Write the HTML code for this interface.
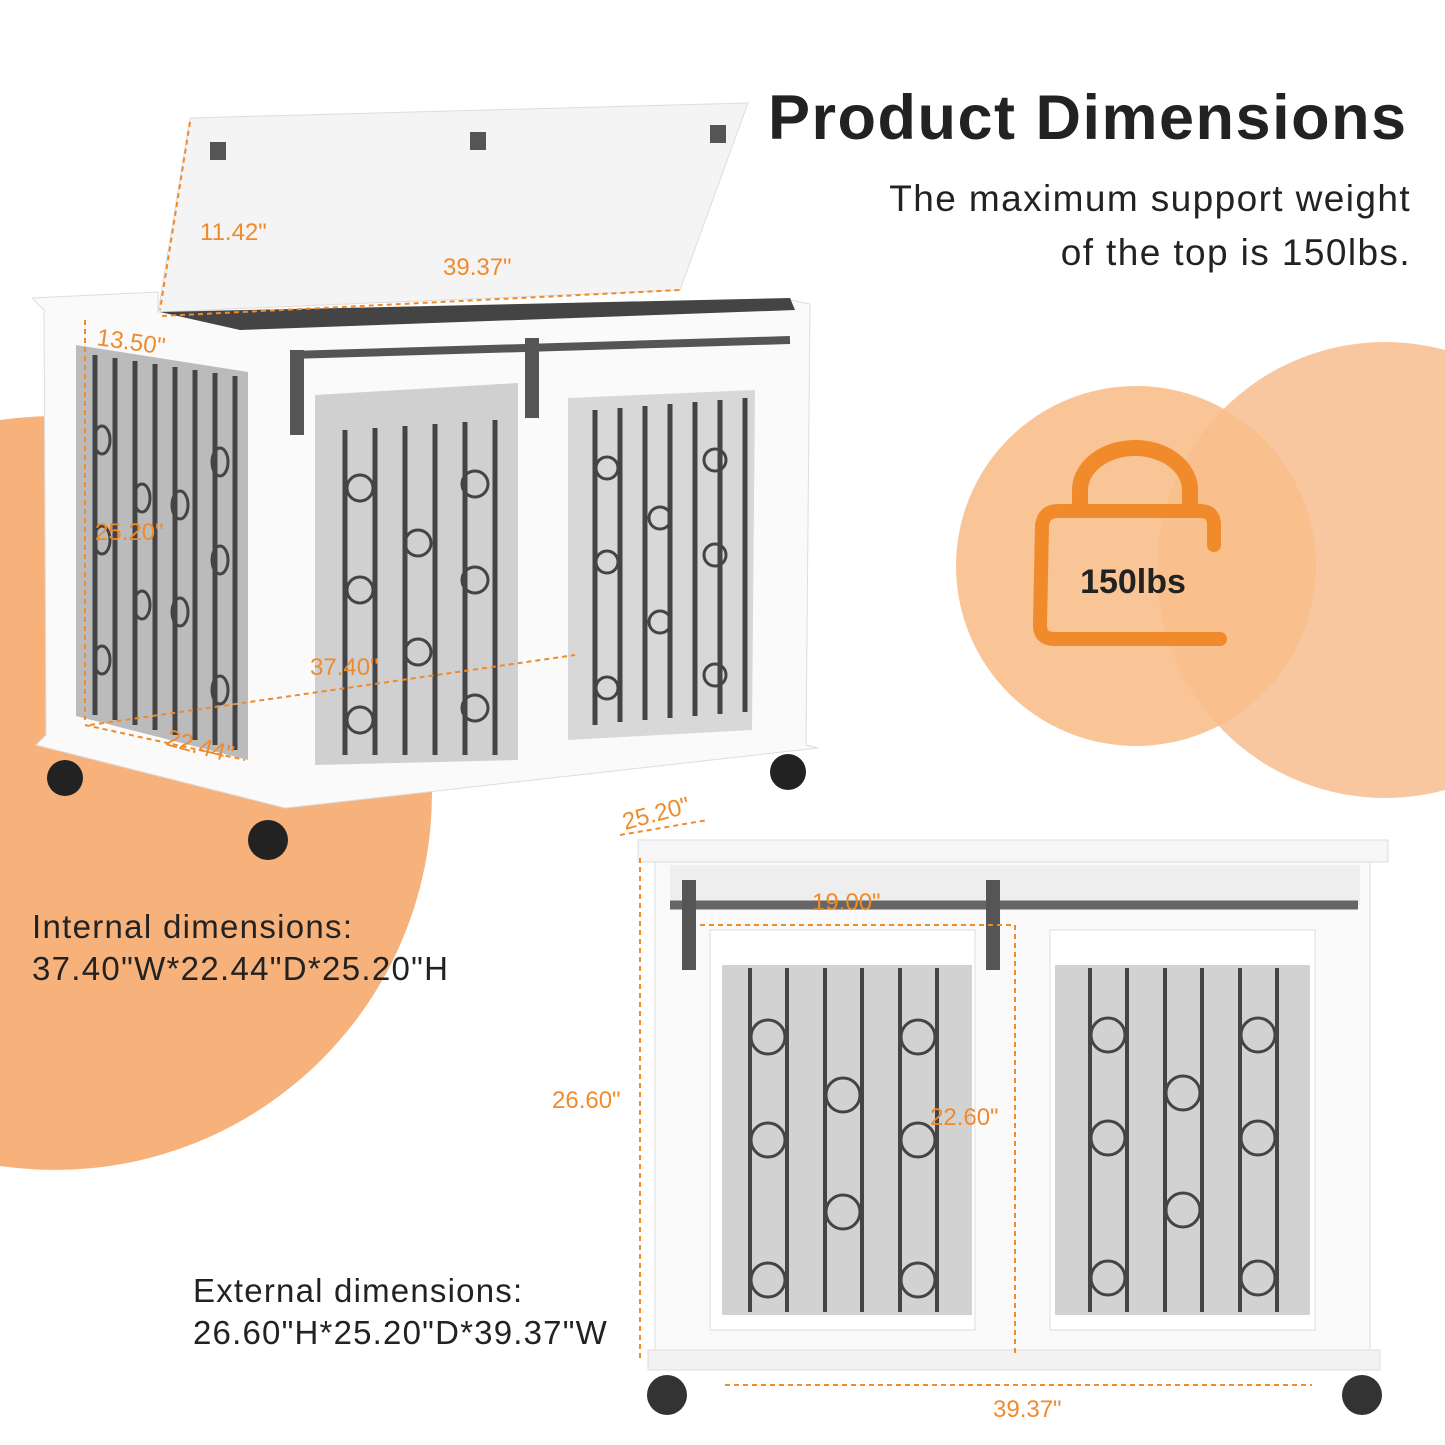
<!DOCTYPE html>
<html><head><meta charset="utf-8"><style>
body{margin:0;width:1445px;height:1445px;overflow:hidden;background:#fff;font-family:"Liberation Sans",sans-serif;position:relative}
.t{position:absolute;color:#222}
</style></head><body>
<svg width="1445" height="1445" style="position:absolute;left:0;top:0">
<circle cx="55" cy="793" r="377" fill="#f7b27c"/>
<circle cx="1385" cy="570" r="228" fill="#f8c7a0"/>
<circle cx="1136" cy="566" r="180" fill="#f8bf8c" opacity="0.9"/>
<path d="M1080 512 V490 a55 42 0 0 1 110 0 V512" fill="none" stroke="#f08a2a" stroke-width="16"/>
<path d="M1214 545 V525 q0 -14 -14 -14 H1058 q-14 0 -16 14 L1040 625 q0 14 14 14 H1220" fill="none" stroke="#f08a2a" stroke-width="14" stroke-linecap="round"/>
<text x="1133" y="593" font-family="Liberation Sans" font-weight="bold" font-size="34" text-anchor="middle" fill="#222">150lbs</text>

<polygon points="190,118 748,103 680,290 158,312" fill="#f4f4f4" stroke="#ddd"/>
<rect x="210" y="142" width="16" height="18" fill="#555"/><rect x="470" y="132" width="16" height="18" fill="#555"/><rect x="710" y="125" width="16" height="18" fill="#555"/>
<polygon points="32,298 158,292 158,312 790,300 810,304 806,745 818,748 285,808 36,745 46,735 44,310" fill="#fafafa" stroke="#ddd"/>
<polygon points="160,312 790,298 795,310 240,330" fill="#444"/>
<polygon points="76,345 248,372 248,760 76,716" fill="#bbb"/>
<polygon points="315,395 518,383 518,760 315,765" fill="#d0d0d0"/>
<polygon points="568,398 755,390 752,730 568,740" fill="#d8d8d8"/>
<g stroke="#444" stroke-width="5">
<line x1="95" y1="355" x2="95" y2="715"/><line x1="115" y1="358" x2="115" y2="720"/><line x1="135" y1="361" x2="135" y2="725"/><line x1="155" y1="364" x2="155" y2="730"/><line x1="175" y1="367" x2="175" y2="735"/><line x1="195" y1="370" x2="195" y2="740"/><line x1="215" y1="373" x2="215" y2="745"/><line x1="235" y1="376" x2="235" y2="750"/>
<line x1="345" y1="430" x2="345" y2="755"/><line x1="375" y1="428" x2="375" y2="755"/><line x1="405" y1="426" x2="405" y2="755"/><line x1="435" y1="424" x2="435" y2="755"/><line x1="465" y1="422" x2="465" y2="755"/><line x1="495" y1="420" x2="495" y2="755"/>
<line x1="595" y1="410" x2="595" y2="725"/><line x1="620" y1="408" x2="620" y2="722"/><line x1="645" y1="406" x2="645" y2="720"/><line x1="670" y1="404" x2="670" y2="718"/><line x1="695" y1="402" x2="695" y2="716"/><line x1="720" y1="400" x2="720" y2="714"/><line x1="745" y1="398" x2="745" y2="712"/>
</g>
<g fill="none" stroke="#444" stroke-width="3">
<circle cx="360" cy="488" r="13"/><circle cx="475" cy="484" r="13"/><circle cx="418" cy="543" r="13"/><circle cx="360" cy="590" r="13"/><circle cx="475" cy="580" r="13"/><circle cx="418" cy="652" r="13"/><circle cx="360" cy="720" r="13"/><circle cx="475" cy="708" r="13"/>
<circle cx="607" cy="468" r="11"/><circle cx="715" cy="460" r="11"/><circle cx="660" cy="518" r="11"/><circle cx="607" cy="562" r="11"/><circle cx="715" cy="555" r="11"/><circle cx="660" cy="622" r="11"/><circle cx="607" cy="688" r="11"/><circle cx="715" cy="675" r="11"/>
<ellipse cx="102" cy="440" rx="8" ry="14"/><ellipse cx="142" cy="498" rx="8" ry="14"/><ellipse cx="180" cy="505" rx="8" ry="14"/><ellipse cx="220" cy="462" rx="8" ry="14"/><ellipse cx="102" cy="540" rx="8" ry="14"/><ellipse cx="220" cy="560" rx="8" ry="14"/><ellipse cx="142" cy="605" rx="8" ry="14"/><ellipse cx="180" cy="612" rx="8" ry="14"/><ellipse cx="102" cy="660" rx="8" ry="14"/><ellipse cx="220" cy="690" rx="8" ry="14"/>
</g>
<line x1="290" y1="355" x2="790" y2="340" stroke="#555" stroke-width="8"/>
<rect x="290" y="350" width="14" height="85" fill="#555"/><rect x="525" y="338" width="14" height="80" fill="#555"/>
<circle cx="65" cy="778" r="18" fill="#222"/><circle cx="268" cy="840" r="20" fill="#222"/><circle cx="788" cy="772" r="18" fill="#222"/>

<rect x="638" y="840" width="750" height="22" fill="#f6f6f6" stroke="#ddd"/>
<rect x="655" y="862" width="715" height="490" fill="#fafafa" stroke="#ddd"/>
<rect x="648" y="1350" width="732" height="20" fill="#f2f2f2" stroke="#ddd"/>
<rect x="670" y="865" width="690" height="40" fill="#eee"/>
<line x1="670" y1="905" x2="1358" y2="905" stroke="#666" stroke-width="9"/>
<rect x="682" y="880" width="14" height="90" fill="#555"/><rect x="986" y="880" width="14" height="90" fill="#555"/>
<rect x="710" y="930" width="265" height="400" fill="#fff" stroke="#ddd"/>
<rect x="722" y="965" width="250" height="350" fill="#d2d2d2"/>
<rect x="1050" y="930" width="265" height="400" fill="#fff" stroke="#ddd"/>
<rect x="1055" y="965" width="255" height="350" fill="#d2d2d2"/>
<g stroke="#444" stroke-width="4">
<line x1="750" y1="968" x2="750" y2="1312"/><line x1="787" y1="968" x2="787" y2="1312"/><line x1="825" y1="968" x2="825" y2="1312"/><line x1="862" y1="968" x2="862" y2="1312"/><line x1="900" y1="968" x2="900" y2="1312"/><line x1="937" y1="968" x2="937" y2="1312"/>
<line x1="1090" y1="968" x2="1090" y2="1312"/><line x1="1127" y1="968" x2="1127" y2="1312"/><line x1="1165" y1="968" x2="1165" y2="1312"/><line x1="1202" y1="968" x2="1202" y2="1312"/><line x1="1240" y1="968" x2="1240" y2="1312"/><line x1="1277" y1="968" x2="1277" y2="1312"/>
</g>
<g fill="none" stroke="#444" stroke-width="3">
<circle cx="768" cy="1037" r="17"/><circle cx="918" cy="1037" r="17"/><circle cx="843" cy="1095" r="17"/><circle cx="768" cy="1140" r="17"/><circle cx="918" cy="1140" r="17"/><circle cx="843" cy="1212" r="17"/><circle cx="768" cy="1280" r="17"/><circle cx="918" cy="1280" r="17"/>
<circle cx="1108" cy="1035" r="17"/><circle cx="1258" cy="1035" r="17"/><circle cx="1183" cy="1093" r="17"/><circle cx="1108" cy="1138" r="17"/><circle cx="1258" cy="1138" r="17"/><circle cx="1183" cy="1210" r="17"/><circle cx="1108" cy="1278" r="17"/><circle cx="1258" cy="1278" r="17"/>
</g>
<circle cx="667" cy="1395" r="20" fill="#333"/><circle cx="1362" cy="1395" r="20" fill="#333"/>

<g fill="none" stroke="#f08a2a" stroke-width="2" stroke-dasharray="5,4">
<line x1="190" y1="122" x2="160" y2="310"/><line x1="162" y1="316" x2="680" y2="290"/><line x1="85" y1="320" x2="85" y2="720"/><line x1="85" y1="725" x2="245" y2="760"/><line x1="90" y1="725" x2="575" y2="655"/>
<line x1="640" y1="858" x2="640" y2="1362"/><line x1="725" y1="1385" x2="1312" y2="1385"/><line x1="700" y1="925" x2="1015" y2="925"/><line x1="1015" y1="925" x2="1015" y2="1355"/><line x1="620" y1="835" x2="708" y2="820"/>
</g>
<g font-family="Liberation Sans" font-size="24" fill="#f08a2a">
<text x="200" y="240">11.42"</text><text x="443" y="275">39.37"</text><text x="96" y="345" transform="rotate(8 96 345)">13.50"</text><text x="95" y="540">25.20"</text><text x="310" y="675">37.40"</text><text x="165" y="745" transform="rotate(15 165 745)">22.44"</text>
<text x="625" y="830" transform="rotate(-15 625 830)">25.20"</text><text x="812" y="910">19.00"</text><text x="552" y="1108">26.60"</text><text x="930" y="1125">22.60"</text><text x="993" y="1417">39.37"</text>
</g>
</svg>
<div class="t" style="left:768px;top:82px;font-size:63px;font-weight:bold;letter-spacing:1.5px">Product Dimensions</div>
<div class="t" style="right:34px;top:172px;font-size:37px;text-align:right;line-height:54px;letter-spacing:1.4px">The maximum support weight<br>of the top is 150lbs.</div>
<div class="t" style="left:32px;top:906px;font-size:33px;line-height:42px;letter-spacing:1.3px">Internal dimensions:<br>37.40"W*22.44"D*25.20"H</div>
<div class="t" style="left:193px;top:1270px;font-size:33px;line-height:42px;letter-spacing:1.2px">External dimensions:<br>26.60"H*25.20"D*39.37"W</div>
</body></html>
